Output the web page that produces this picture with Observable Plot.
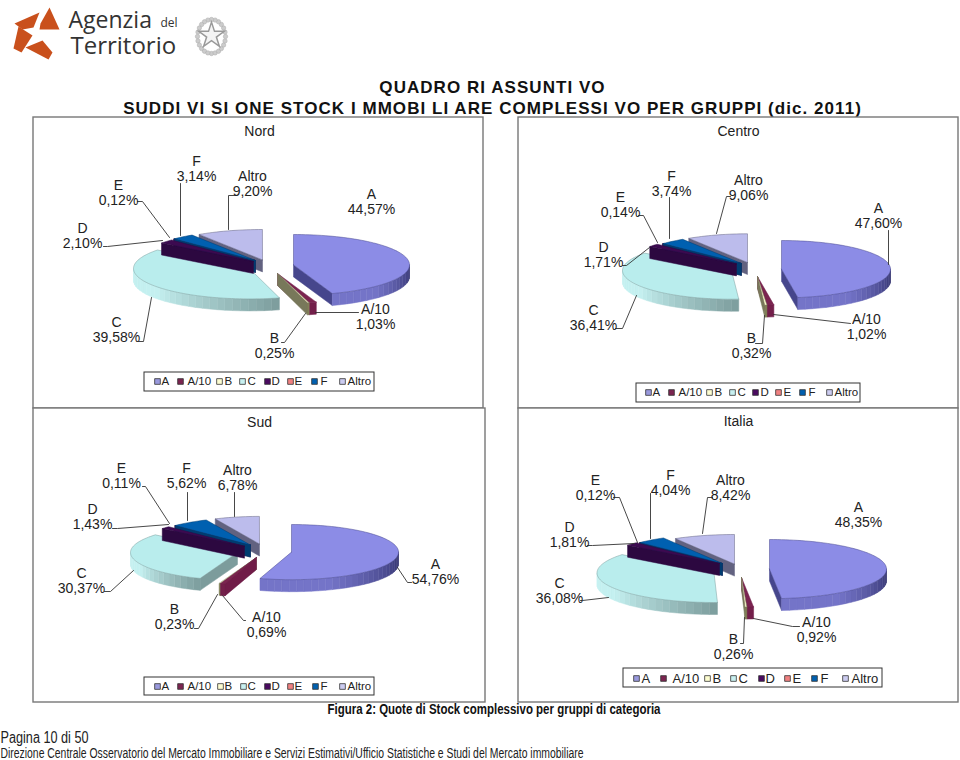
<!DOCTYPE html>
<html><head><meta charset="utf-8">
<style>
html,body{margin:0;padding:0;background:#fff}
</style>
<script src="https://cdn.jsdelivr.net/npm/d3@7"></script>
<script src="https://cdn.jsdelivr.net/npm/@observablehq/plot@0.6"></script>
</head><body><div id="chart"></div>
<script>
const categories = ["A","A/10","B","C","D","E","F","Altro"];
const nord   = [44.57,1.03,0.25,39.58,2.10,0.12,3.14,9.20];
const centro = [47.60,1.02,0.32,36.41,1.71,0.14,3.74,9.06];
const sud    = [54.76,0.69,0.23,30.37,1.43,0.11,5.62,6.78];
const italia = [48.35,0.92,0.26,36.08,1.81,0.12,4.04,8.42];

// colours per category: top face, darkest wall, lightest wall
const topColors  = ["#8c8ce6","#7b2450","#fdfdd0","#b9eded","#3c0a50","#5a2040","#0060b0","#bcbcec"];
const darkWalls  = ["#30306a","#5a1038","#6a6a4a","#7c9c9c","#280438","#3c0a40","#003868","#55556e"];
const lightWalls = ["#7474c8","#7b2450","#86865c","#c4f0f0","#2c0840","#3c0a40","#004c90","#6a6a88"];
const sideWalls  = ["#46468c","#701c48","#78785a","#7c9c9c","#2c0840","#2c0840","#003c70","#626280"];
const swatchColors = ["#9999dd","#7b2450","#fdfdd0","#c8f0f0","#4a0a60","#f08080","#0060b0","#ccccf0"];

// layout of each panel
const panels = [
 {name:"Nord", values:nord, rx:116, ry:30.4, depth:12, title:[259,131],
  frame:[33,117,483,408],
  apex:[[293,264.4],[277,273],[277,273],[249,268],[253,261],[255,260],[255,260],[262,259.4]],
  labels:[[371,201],[375,316],[274,345],[116,329],[82,235],[118,192],[196,168],[252,183]],
  leaders:[[],[[358,312],[315,312]],[[281,342],[284,342],[305,313]],[[138,341],[143,341],[151,297]],
   [[103,246],[107,246],[162,240]],[[137,201],[142,201],[169,237]],[[180,183],[180,235]],[[235,195],[228,195],[228,229]]],
  legend:{box:[144,372,374,391],y:381,size:11.5,sw:[157,180,219,242,267,290,314,342],tx:[161,187,224,247,271,294,320,347]}},
 {name:"Centro", values:centro, rx:109, ry:28.7, depth:12, title:[738,131],
  frame:[518,117,958,408],
  apex:[[781,268.7],[757,276],[757,276],[731,270],[736,263.4],[741,263],[741,263],[747,262]],
  labels:[[878,215],[866,326],[751,345],[593,317],[603,254],[620,204],[671,183],[748,187]],
  leaders:[[[888,230],[888,264]],[[850,323],[773,314]],[[755,343],[762,343],[764,315]],[[615,328],[622,328],[636,295]],
   [[622,265],[626,265],[649,247]],[[638,215],[643,215],[657,242]],[[669,197],[669,238]],[[730,196],[726,196],[716,233]]],
  legend:{box:[636,383,860,402],y:392,size:11.5,sw:[648,671,709,732,755,778,802,829],tx:[652,678,714,737,760,783,808,834]}},
 {name:"Sud", values:sud, rx:107, ry:27.6, depth:12, title:[259,422],
  frame:[33,408,485,702],
  apex:[[291,551.6],[256,557],[256,557],[237,552],[244,545.7],[250,544.6],[250,544.6],[259,543.5]],
  labels:[[435,571],[266,624],[174,616],[81,580],[92,516],[121,475],[186,475],[237,477]],
  leaders:[[[411,582],[407,582],[397,567]],[[245,620],[243,620],[222,595]],[[194,628],[198,628],[217,594]],[[104,591],[110,591],[133,570]],
   [[112,528],[117,528],[168,524]],[[142,486],[145,486],[169,523]],[[187,492],[187,520]],[[234,492],[234,516]]],
  legend:{box:[144,677,374,695],y:686,size:11.5,sw:[157,180,220,243,267,290,315,342],tx:[161,187,224,247,271,294,320,347]}},
 {name:"Italia", values:italia, rx:117, ry:29.6, depth:12, title:[738,421],
  frame:[518,408,958,702],
  apex:[[769,568.6],[741,577],[741,577],[713.5,572.4],[719,563],[722,563],[722,563],[734,563.6]],
  labels:[[858,514],[816,629],[733,646],[559,590],[569,534],[595,487],[670,482],[730,487]],
  leaders:[[],[[799,626],[792,626],[753,618]],[[740,643],[743,643],[744,617]],[[580,600],[582,600],[608,597]],
   [[587,545],[592,545],[634,543]],[[613,497],[619,497],[637,542]],[[650,493],[650,538]],[[712,497],[707,497],[702,533]]],
  legend:{box:[623,668,882,687],y:678,size:13,sw:[636,663,707,733,761,787,814,845],tx:[641,672,712,738,765,792,820,851]}}
];

// logo and emblem (decoration)
const logoPieces = [
 [[14,23],[39,12],[33,27],[22,29]],
 [[40,23],[49,7],[59,29],[39,29]],
 [[18,26],[32,35],[21,52],[13,48]],
 [[25,47],[42,40],[52,52],[48,59]]
];
const logoWords = [
 {t:"Agenzia",x:68,y:20,s:23},{t:"del",x:160,y:23,s:12},{t:"Territorio",x:70,y:46,s:24}
];
const emblemAngles = d3.range(0,360,15);

const fmt = v => v.toFixed(2).replace(".",",") + "%";
const polys = [];
let pid = 0;
function poly(pts, color, edge){
  const id = pid++;
  const closed = pts.concat([pts[0]]);
  for (const [x,y] of closed) polys.push({id,x,y,color,edge:edge||color});
}
for (const p of panels){
  let sum = 0;
  const ranges = p.values.map(v => { const a=sum*3.6; sum+=v; return [a,sum*3.6]; });
  const pt = (i,t) => {
    const r=t*Math.PI/180, [ax,ay]=p.apex[i];
    return [ax+p.rx*Math.sin(r), ay-p.ry*Math.cos(r)];
  };
  const thin = ranges[1][0] < 180 ? [1,2] : [2,1];
  const drawOrder = [7,5,6,3,4,...thin,0];
  for (const i of drawOrder){
    const [t1,t2]=ranges[i], [ax,ay]=p.apex[i], d=p.depth;
    if (t1>180 && t1<360){const q=pt(i,t1); poly([[ax,ay],q,[q[0],q[1]+d],[ax,ay+d]],sideWalls[i]);}
    if (t2>0 && t2<180){const q=pt(i,t2); poly([[ax,ay],q,[q[0],q[1]+d],[ax,ay+d]],sideWalls[i]);}
    const w1=Math.max(t1,90), w2=Math.min(t2,270);
    if (w2>w1){
      const n=Math.max(1,Math.ceil((w2-w1)/4));
      const mix=d3.interpolateRgb(darkWalls[i],lightWalls[i]);
      for(let k=0;k<n;k++){
        const a=w1+(w2-w1)*k/n,b=w1+(w2-w1)*(k+1)/n,u=Math.min(1,(k+.5)/n/0.65);
        const A=pt(i,a),B=pt(i,b);
        poly([A,B,[B[0],B[1]+d],[A[0],A[1]+d]],mix(u));
      }
    }
    const top=[[ax,ay]], n=Math.max(2,Math.ceil((t2-t1)/2));
    for(let k=0;k<=n;k++) top.push(pt(i,t1+(t2-t1)*k/n));
    poly(top,topColors[i],sideWalls[i]);
  }
}
const leaderRows=[], labelRows=[], titleRows=[], frameRows=[], boxRows=[], swRows=[], legRows=[];
let lid=0;
for (const p of panels){
  frameRows.push({x1:p.frame[0],y1:p.frame[1],x2:p.frame[2],y2:p.frame[3]});
  titleRows.push({t:p.name,x:p.title[0],y:p.title[1]});
  categories.forEach((c,i)=>{
    labelRows.push({t:c+"\n"+fmt(p.values[i]),x:p.labels[i][0],y:p.labels[i][1]});
    if(p.leaders[i].length){const id=lid++;for(const [x,y] of p.leaders[i])leaderRows.push({id,x,y});}
    swRows.push({x:p.legend.sw[i],y:p.legend.y,c:swatchColors[i]});
    legRows.push({t:c,x:p.legend.tx[i],y:p.legend.y,s:p.legend.size});
  });
  const b=p.legend.box; boxRows.push({x1:b[0],y1:b[1],x2:b[2],y2:b[3]});
}
const logoRows=[]; logoPieces.forEach((q,id)=>q.concat([q[0]]).forEach(([x,y])=>logoRows.push({id,x,y})));

const sans='"Liberation Sans",Arial,sans-serif';
const headings=["QUADRO RI ASSUNTI VO","SUDDI VI SI ONE STOCK I MMOBI LI ARE COMPLESSI VO PER GRUPPI (dic. 2011)"];
const caption="Figura 2: Quote di Stock complessivo per gruppi di categoria";
const pageLine="Pagina 10 di 50";
const footLine="Direzione Centrale Osservatorio del Mercato Immobiliare e Servizi Estimativi/Ufficio Statistiche e Studi del Mercato immobiliare";
const chart=Plot.plot({
  width:960,height:760,margin:0,
  style:{fontFamily:sans,background:"#fff",color:"#222"},
  x:{domain:[0,960],range:[0,960],axis:null},
  y:{domain:[0,760],range:[0,760],axis:null},
  color:{type:"identity"},
  marks:[
    Plot.line(logoRows,{x:"x",y:"y",z:"id",fill:"#c9501c",stroke:"none"}),
    Plot.text(logoWords,{x:"x",y:"y",text:"t",fontSize:"s",textAnchor:"start",fontFamily:'"Open Sans"',fill:"#333"}),
    Plot.dot(emblemAngles,{x:a=>211+14*Math.sin(a*Math.PI/180),y:a=>36+17*Math.cos(a*Math.PI/180),r:2.2,fill:"#ccc",stroke:"#aaa",strokeWidth:0.5}),
    Plot.dot([{x:211,y:35}],{x:"x",y:"y",r:8,symbol:"star",stroke:"#999",fill:"#f4f4f4"}),
    Plot.text(headings,{x:[492,492],y:[87,108],text:d=>d,fontSize:17,fontWeight:"bold",fill:"#111"}),
    Plot.rect(frameRows,{x1:"x1",x2:"x2",y1:"y1",y2:"y2",fill:"#fff",stroke:"#777",strokeWidth:1.4}),
    Plot.text(titleRows,{x:"x",y:"y",text:"t",fontSize:14,fill:"#222"}),
    Plot.line(polys,{x:"x",y:"y",z:"id",fill:"color",stroke:"edge",strokeWidth:0.5}),
    Plot.line(leaderRows,{x:"x",y:"y",z:"id",stroke:"#333",strokeWidth:0.9}),
    Plot.text(labelRows,{x:"x",y:"y",text:"t",fontSize:14,lineHeight:1.05,fill:"#222"}),
    Plot.rect(boxRows,{x1:"x1",x2:"x2",y1:"y1",y2:"y2",fill:"#fff",stroke:"#333",strokeWidth:1}),
    Plot.dot(swRows,{x:"x",y:"y",symbol:"square",r:3.2,fill:"c",stroke:"#333",strokeWidth:0.8}),
    Plot.text(legRows,{x:"x",y:"y",text:"t",fontSize:"s",textAnchor:"start",fill:"#222"}),
    Plot.text([caption],{x:[327],y:[709],text:d=>d,textAnchor:"start",fontSize:14.5,fontWeight:"bold",fill:"#111"}),
    Plot.text([pageLine],{x:[0],y:[737],text:d=>d,textAnchor:"start",fontSize:16,fill:"#222"}),
    Plot.text([footLine],{x:[0],y:[753.5],text:d=>d,textAnchor:"start",fontSize:14,fill:"#222"})
  ]
});
// letter spacing of the headings and condensed footer lines
const condensed=new Map([[caption,333],[pageLine,88],[footLine,583]]);
chart.querySelectorAll("text").forEach(el=>{
  const s=el.textContent;
  if(headings.includes(s)) el.style.letterSpacing="1.05px";
  if(condensed.has(s)){el.setAttribute("textLength",condensed.get(s));el.setAttribute("lengthAdjust","spacingAndGlyphs");}
});
document.getElementById("chart").appendChild(chart);
</script></body></html>
